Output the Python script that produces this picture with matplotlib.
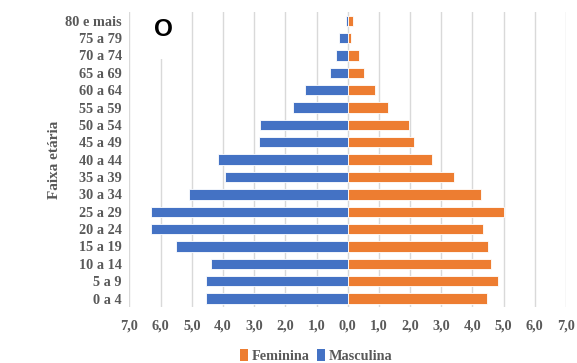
import matplotlib
matplotlib.use("Agg")
import matplotlib.pyplot as plt
from matplotlib.ticker import FuncFormatter, MultipleLocator
from matplotlib.patches import Patch

# Age groups, youngest first (bottom of the pyramid)
faixas = ["0 a 4", "5 a 9", "10 a 14", "15 a 19", "20 a 24", "25 a 29",
          "30 a 34", "35 a 39", "40 a 44", "45 a 49", "50 a 54", "55 a 59",
          "60 a 64", "65 a 69", "70 a 74", "75 a 79", "80 e mais"]

# Share of population (%) by sex
masculina = [4.55, 4.55, 4.37, 5.51, 6.32, 6.32, 5.08, 3.95, 4.17, 2.86,
             2.82, 1.75, 1.36, 0.57, 0.38, 0.27, 0.05]
feminina = [4.46, 4.83, 4.61, 4.49, 4.34, 5.02, 4.27, 3.41, 2.69, 2.13,
            1.98, 1.29, 0.89, 0.51, 0.36, 0.12, 0.16]

COR_FEM = "#ED7D31"
COR_MASC = "#4472C4"
COR_TXT = "#595959"
SERIF = ["Liberation Serif", "DejaVu Serif"]

fig = plt.figure(figsize=(5.77, 3.63), dpi=100)
ax = fig.add_axes([0.2244, 0.1537, 0.7565, 0.813])

y = list(range(len(faixas)))
ax.barh(y, [-v for v in masculina], height=0.6, color=COR_MASC,
        edgecolor="white", linewidth=0.6, zorder=3)
ax.barh(y, feminina, height=0.6, color=COR_FEM,
        edgecolor="white", linewidth=0.6, zorder=3)

ax.set_xlim(-7, 7)
ax.set_ylim(-0.5, len(faixas) - 0.5)
ax.xaxis.set_major_locator(MultipleLocator(1))
ax.xaxis.set_major_formatter(
    FuncFormatter(lambda v, p: f"{abs(v):.1f}".replace(".", ",")))
ax.set_yticks(y)
ax.set_yticklabels(faixas)

ax.grid(axis="x", color="#D9D9D9", linewidth=1.0, zorder=0)
ax.grid(axis="y", visible=False)
for s in ax.spines.values():
    s.set_visible(False)
ax.tick_params(axis="both", length=0, colors=COR_TXT)
ax.tick_params(axis="x", pad=9)
ax.tick_params(axis="y", pad=5.5)
for lab in ax.get_xticklabels() + ax.get_yticklabels():
    lab.set_fontfamily(SERIF)
    lab.set_fontweight("bold")
    lab.set_fontsize(10.3)

ax.set_ylabel("Faixa etária", family=SERIF, fontweight="bold", fontsize=11,
              color=COR_TXT, labelpad=3)

# Panel letter on a white box
ax.text(0.078, 0.94, "O", transform=ax.transAxes, ha="center", va="center",
        family=["Liberation Sans", "DejaVu Sans"], fontweight="bold",
        fontsize=17.5, color="black", zorder=10, clip_on=False,
        bbox=dict(boxstyle="square,pad=0.72", facecolor="white",
                  edgecolor="none"))

handles = [Patch(facecolor=COR_FEM, label="Feminina"),
           Patch(facecolor=COR_MASC, label="Masculina")]
leg = fig.legend(handles=handles, loc="center", bbox_to_anchor=(0.548, 0.02),
                 ncol=2, frameon=False, handlelength=0.55, handleheight=0.9,
                 handletextpad=0.25, columnspacing=0.5,
                 prop={"family": SERIF, "weight": "bold", "size": 10.3})
for t in leg.get_texts():
    t.set_color(COR_TXT)

fig.savefig("out.png", dpi=100, facecolor="white")
